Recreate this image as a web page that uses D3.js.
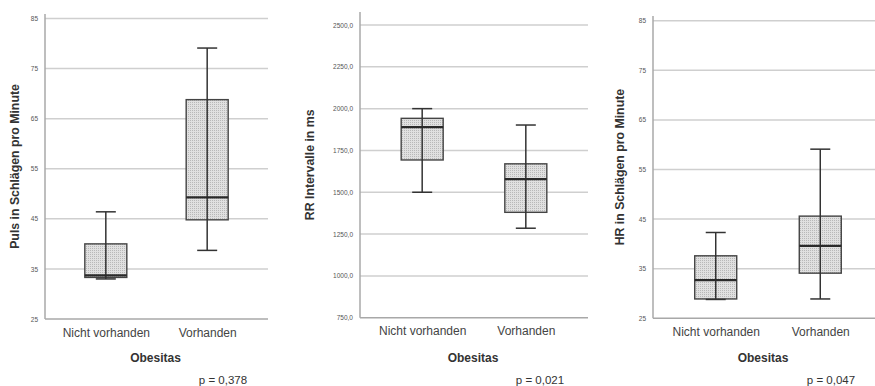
<!DOCTYPE html>
<html>
<head>
<meta charset="utf-8">
<script src="https://cdn.jsdelivr.net/npm/d3@7"></script>
<style>
  body { margin: 0; background: #fff; }
  text { font-family: "Liberation Sans", Arial, sans-serif; }
</style>
</head>
<body>
<script>
// categories on the x axis (same in all three panels)
var categories = ["Nicht vorhanden", "Vorhanden"];

// box stats per panel: [min, q1, median, q3, max]
var pulsStats = [[33.0, 33.3, 33.7, 40.0, 46.4], [38.7, 44.8, 49.3, 68.8, 79.1]];
var rrStats = [[1500, 1693, 1890, 1942, 2000], [1285, 1380, 1579, 1670, 1902]];
var hrStats = [[28.8, 28.9, 32.7, 37.6, 42.3], [28.9, 34.1, 39.6, 45.6, 59.1]];

// tick labels
var bpmTicks = [25, 35, 45, 55, 65, 75, 85];
var rrTicks = [750, 1000, 1250, 1500, 1750, 2000, 2250, 2500];

var titles = ["Puls in Schlägen pro Minute", "RR Intervalle in ms", "HR in Schlägen pro Minute"];
var pValues = ["p = 0,378", "p = 0,021", "p = 0,047"];

var deLocale = d3.formatLocale({decimal: ",", thousands: "", grouping: [3], currency: ["", "€"]});

var W = 875, H = 386;
var svg = d3.select("body").append("svg").attr("width", W).attr("height", H);

// fine dotted gray fill like the SPSS boxes
var pat = svg.append("defs").append("pattern")
    .attr("id", "dots").attr("patternUnits", "userSpaceOnUse")
    .attr("width", 2).attr("height", 2);
pat.append("rect").attr("width", 2).attr("height", 2).attr("fill", "#e0e0e0");
pat.append("rect").attr("width", 1).attr("height", 1).attr("fill", "#b8b8b8");

var panels = [
    {stats: pulsStats, ticks: bpmTicks, fmt: d3.format("d"), left: 45, right: 268, gridRight: 268,
     top: 18.5, bottom: 319, axisTop: 14, titleX: 15, pX: 223},
    {stats: rrStats, ticks: rrTicks, fmt: deLocale.format(".1f"), left: 360, right: 588, gridRight: 588,
     top: 25, bottom: 317.7, axisTop: 12, titleX: 310, pX: 540},
    {stats: hrStats, ticks: bpmTicks, fmt: d3.format("d"), left: 653, right: 883, gridRight: 875,
     top: 20.7, bottom: 318.3, axisTop: 16, titleX: 620, pX: 831}
];

panels.forEach(function (p, k) {
    var g = svg.append("g");
    var y = d3.scaleLinear()
        .domain(d3.extent(p.ticks))
        .range([p.bottom, p.top]);
    var x = d3.scalePoint()
        .domain(categories)
        .range([p.left, p.right])
        .padding(0.6);

    // gridlines
    g.selectAll(".grid")
        .data(p.ticks.slice(1))
        .enter().append("line")
        .attr("x1", p.left).attr("x2", p.gridRight)
        .attr("y1", function (d) { return y(d); })
        .attr("y2", function (d) { return y(d); })
        .attr("stroke", "#cfcfcf").attr("stroke-width", 1.5);

    // y axis
    var yAxis = d3.axisLeft(y).tickValues(p.ticks).tickFormat(p.fmt).tickSize(0).tickPadding(7);
    var ya = g.append("g").attr("transform", "translate(" + p.left + ",0)").call(yAxis);
    ya.select(".domain").remove();
    ya.selectAll("text").attr("fill", "#555").style("font-size", "6.5px");
    g.append("line")
        .attr("x1", p.left).attr("x2", p.left)
        .attr("y1", p.axisTop).attr("y2", p.bottom)
        .attr("stroke", "#a8a8a8").attr("stroke-width", 1.5);

    // x axis
    var xAxis = d3.axisBottom(x).tickSize(0).tickPadding(9);
    var xa = g.append("g").attr("transform", "translate(0," + p.bottom + ")").call(xAxis);
    xa.select(".domain").remove();
    xa.selectAll("text").attr("fill", "#444").style("font-size", "12px");
    g.append("line")
        .attr("x1", p.left).attr("x2", p.gridRight)
        .attr("y1", p.bottom).attr("y2", p.bottom)
        .attr("stroke", "#a8a8a8").attr("stroke-width", 1.5);

    // boxes
    var boxW = 42, capW = 20;
    var box = g.selectAll(".box")
        .data(p.stats)
        .enter().append("g");

    box.append("rect")
        .attr("x", function (d, i) { return x(categories[i]) - boxW / 2; })
        .attr("y", function (d) { return y(d[3]); })
        .attr("width", boxW)
        .attr("height", function (d) { return y(d[1]) - y(d[3]); })
        .attr("fill", "url(#dots)")
        .attr("stroke", "#444").attr("stroke-width", 1.4);

    box.append("line")
        .attr("x1", function (d, i) { return x(categories[i]); })
        .attr("x2", function (d, i) { return x(categories[i]); })
        .attr("y1", function (d) { return y(d[0]); })
        .attr("y2", function (d) { return y(d[4]); })
        .attr("stroke", "#333").attr("stroke-width", 1.5);

    [0, 4].forEach(function (j) {
        box.append("line")
            .attr("x1", function (d, i) { return x(categories[i]) - capW / 2; })
            .attr("x2", function (d, i) { return x(categories[i]) + capW / 2; })
            .attr("y1", function (d) { return y(d[j]); })
            .attr("y2", function (d) { return y(d[j]); })
            .attr("stroke", "#333").attr("stroke-width", 1.5);
    });

    box.append("line")
        .attr("x1", function (d, i) { return x(categories[i]) - boxW / 2; })
        .attr("x2", function (d, i) { return x(categories[i]) + boxW / 2; })
        .attr("y1", function (d) { return y(d[2]); })
        .attr("y2", function (d) { return y(d[2]); })
        .attr("stroke", "#2a2a2a").attr("stroke-width", 2.2);

    // titles
    var midY = (p.axisTop + p.bottom) / 2;
    g.append("text")
        .attr("transform", "translate(" + p.titleX + "," + midY + ") rotate(-90)")
        .attr("text-anchor", "middle").attr("dy", "0.35em")
        .attr("fill", "#333").style("font-size", "12.3px").style("font-weight", "bold")
        .text(titles[k]);

    g.append("text")
        .attr("x", (p.left + Math.min(p.right, 875)) / 2 - 1).attr("y", 358)
        .attr("text-anchor", "middle").attr("dy", "0.35em")
        .attr("fill", "#333").style("font-size", "12px").style("font-weight", "bold")
        .text("Obesitas");

    g.append("text")
        .attr("x", p.pX).attr("y", 380)
        .attr("text-anchor", "middle").attr("dy", "0.35em")
        .attr("fill", "#333").style("font-size", "11.5px")
        .text(pValues[k]);
});
</script>
</body>
</html>
